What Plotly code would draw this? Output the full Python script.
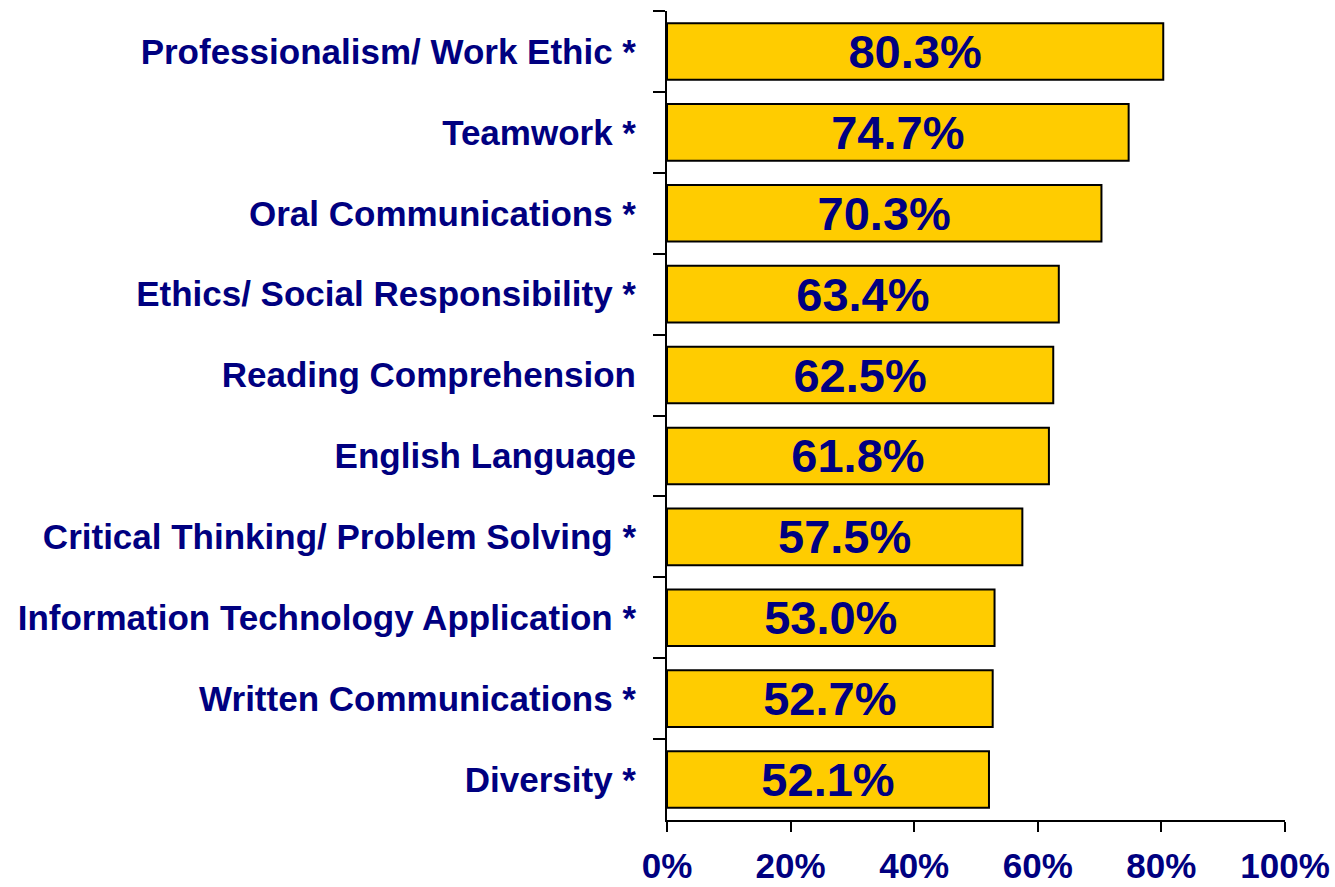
import plotly.graph_objects as go

# Share of respondents rating each skill as very important
skills = [
    "Professionalism/ Work Ethic *",
    "Teamwork *",
    "Oral Communications *",
    "Ethics/ Social Responsibility *",
    "Reading Comprehension",
    "English Language",
    "Critical Thinking/ Problem Solving *",
    "Information Technology Application *",
    "Written Communications *",
    "Diversity *",
]
percent = [80.3, 74.7, 70.3, 63.4, 62.5, 61.8, 57.5, 53.0, 52.7, 52.1]
x_ticks = [0, 20, 40, 60, 80, 100]

NAVY = "#000080"
FONT = "Liberation Sans, Arial, sans-serif"

fig = go.Figure(
    go.Bar(
        x=percent,
        y=skills,
        orientation="h",
        marker=dict(color="#FFCC00", line=dict(color="black", width=2)),
        text=[f"{v:.1f}%" for v in percent],
        textposition="inside",
        insidetextanchor="middle",
        textangle=0,
        textfont=dict(family=FONT, size=47, color=NAVY, weight="bold"),
        constraintext="none",
        cliponaxis=False,
    )
)

fig.update_layout(
    width=1335,
    height=887,
    margin=dict(l=667, r=50, t=11, b=67, autoexpand=False),
    plot_bgcolor="white",
    paper_bgcolor="white",
    bargap=0.3,
    showlegend=False,
    font=dict(family=FONT, color=NAVY),
)

fig.update_xaxes(
    range=[0, 100],
    tickvals=x_ticks,
    ticktext=[f"{t}%" for t in x_ticks],
    showgrid=False,
    zeroline=False,
    showline=True,
    linecolor="black",
    linewidth=2,
    ticks="outside",
    ticklen=10,
    tickwidth=2,
    tickcolor="black",
    ticklabelstandoff=4,
    automargin=False,
    tickfont=dict(family=FONT, size=35, color=NAVY, weight="bold"),
)

fig.update_yaxes(
    autorange="reversed",
    showgrid=False,
    showline=True,
    linecolor="black",
    linewidth=2,
    ticks="outside",
    tickson="boundaries",
    ticklen=12,
    tickwidth=2,
    tickcolor="black",
    ticklabelstandoff=22,
    automargin=False,
    tickfont=dict(family=FONT, size=35, color=NAVY, weight="bold"),
)

fig.write_html("out.html")
